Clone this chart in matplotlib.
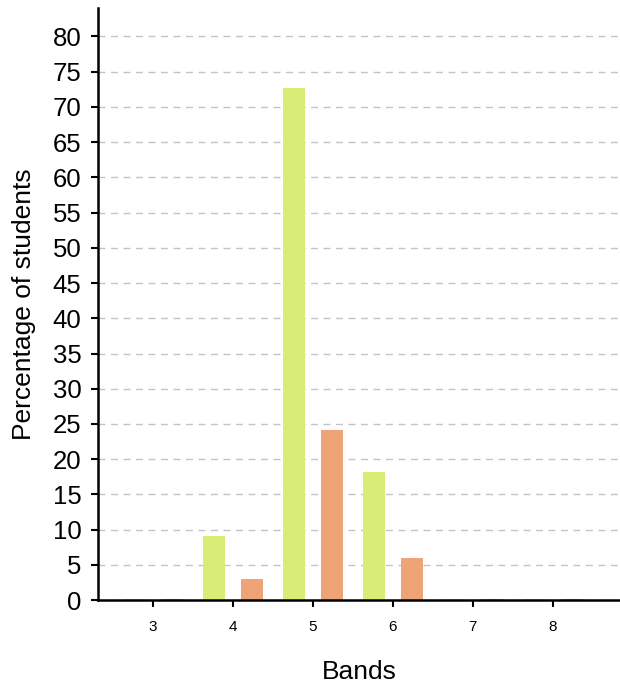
import matplotlib
matplotlib.use("Agg")
import matplotlib.pyplot as plt
import numpy as np

# data
bands = ["3", "4", "5", "6", "7", "8"]
group_a = [0.0, 9.1, 72.7, 18.2, 0.0, 0.0]
group_b = [0.0, 3.0, 24.2, 6.0, 0.0, 0.0]
yticks = list(range(0, 81, 5))

plt.rcParams['font.family'] = ['Liberation Sans', 'DejaVu Sans']

fig = plt.figure(figsize=(6.2, 6.89), dpi=100)
ax = fig.add_axes([0.158, 0.129, 0.842, 0.859])

x = np.arange(len(bands))
w = 0.275
off = 0.24
ax.bar(x - off, group_a, w, color="#d9ed76", zorder=3)
ax.bar(x + off, group_b, w, color="#efa478", zorder=3)
# zero-height bars still show as a thin line
ax.bar(x - off, [0.15 if v == 0 else 0 for v in group_a], w, color="#d9ed76", zorder=3)
ax.bar(x + off, [0.15 if v == 0 else 0 for v in group_b], w, color="#efa478", zorder=3)

ax.set_xlim(-0.69, 5.84)
ax.set_ylim(0, 84)
ax.set_yticks(yticks)
ax.set_xticks(x)
ax.set_xticklabels(bands, fontsize=11)
ax.tick_params(axis="y", labelsize=18.5, length=5, width=1.5, pad=7)
ax.tick_params(axis="x", length=5, width=1.5, pad=9)

ax.yaxis.grid(True, linestyle=(0, (5, 4)), color="#c4c4c4", linewidth=1, zorder=0)
ax.set_axisbelow(True)

for s in ["top", "right"]:
    ax.spines[s].set_visible(False)
ax.spines["left"].set_linewidth(1.8)
ax.spines["bottom"].set_linewidth(1.8)
ax.spines["bottom"].set_zorder(4)

ax.set_xlabel("Bands", fontsize=19, labelpad=19)
ax.set_ylabel("Percentage of students", fontsize=19, labelpad=12)

fig.savefig("out.png", dpi=100)
